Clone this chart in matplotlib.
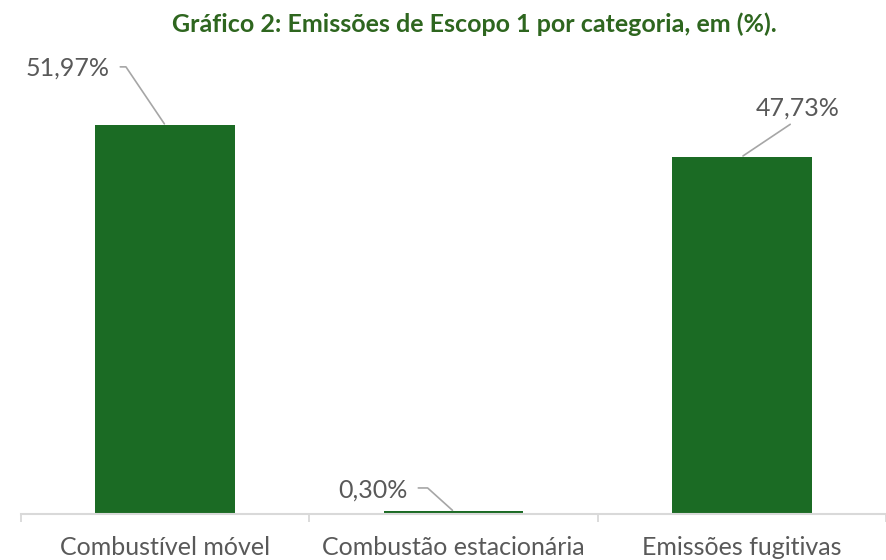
import numpy as np
import matplotlib
matplotlib.use("Agg")
import matplotlib.pyplot as plt

categories = ["Combustível móvel", "Combustão estacionária", "Emissões fugitivas"]
values = [51.97, 0.30, 47.73]
labels = ["51,97%", "0,30%", "47,73%"]
title = "Gráfico 2: Emissões de Escopo 1 por categoria, em (%)."

bar_color = "#1B6B24"
title_color = "#2E661F"
text_color = "#595959"
line_color = "#A6A6A6"
axis_color = "#D9D9D9"

plt.rcParams["font.family"] = ["Lato", "DejaVu Sans"]

fig = plt.figure(figsize=(8.87, 5.60), dpi=100)
ax = fig.add_axes([21 / 887, 46.5 / 560, 865 / 887, 448.5 / 560])

x = np.arange(len(categories))
ax.bar(x, values, width=0.485, color=bar_color, zorder=1)

ax.set_xlim(-0.5, len(categories) - 0.5)
ax.set_ylim(0, 60)
for s in ["top", "right", "left"]:
    ax.spines[s].set_visible(False)
ax.spines["bottom"].set_color(axis_color)
ax.spines["bottom"].set_linewidth(1.5)
ax.spines["bottom"].set_zorder(3)
ax.set_yticks([])
ax.set_xticks(x)
ax.set_xticklabels(categories, fontsize=18, color=text_color)
ax.tick_params(axis="x", which="major", length=0, pad=16)
ax.set_xticks(np.arange(len(categories) + 1) - 0.5, minor=True)
ax.tick_params(axis="x", which="minor", length=6, width=1.3, color=axis_color)

# data labels with leader lines (offset in pixels)
label_cfg = [
    dict(off=(-98, 57), relpos=(1, 0.55), cs="angle,angleA=0,angleB=124,rad=0", shA=6),
    dict(off=(-81, 21), relpos=(1, 0.6), cs="angle,angleA=0,angleB=138,rad=0", shA=6),
    dict(off=(56, 49), relpos=(0.5, 0), cs="arc3,rad=0", shA=3),
]
for xi, v, lab, cfg in zip(x, values, labels, label_cfg):
    ax.annotate(lab, xy=(xi, v), xytext=cfg["off"], textcoords="offset pixels",
                ha="center", va="center", fontsize=18, color=text_color,
                arrowprops=dict(arrowstyle="-", color=line_color, lw=1.2,
                                relpos=cfg["relpos"], connectionstyle=cfg["cs"],
                                shrinkA=cfg["shA"], shrinkB=1))

fig.text(474.5 / 887, 1 - 32 / 560, title, ha="center", va="baseline",
         fontsize=18, fontweight="bold", color=title_color)

fig.savefig("out.png", dpi=100)
